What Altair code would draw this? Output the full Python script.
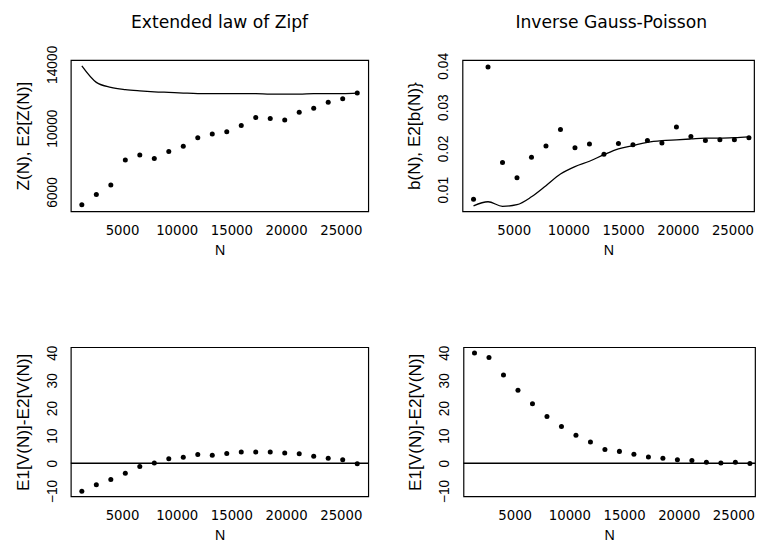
import altair as alt
import pandas as pd

# ---- data ----
N = [1325, 2650, 3975, 5300, 6625, 7950, 9275, 10600, 11925, 13250,
     14575, 15900, 17225, 18550, 19875, 21200, 22525, 23850, 25175, 26505]

zipf_obs = [5200, 5840, 6430, 8010, 8320, 8090, 8540, 8870, 9400, 9630,
            9770, 10160, 10660, 10600, 10510, 10990, 11250, 11620, 11850, 12200]
zipf_exp = [13900, 12870, 12560, 12420, 12340, 12280, 12240, 12200, 12170, 12170,
            12170, 12170, 12170, 12130, 12130, 12130, 12170, 12170, 12170, 12200]

igp_obs = [0.0077, 0.0397, 0.0166, 0.0129, 0.0179, 0.0206, 0.0246, 0.0202, 0.0211, 0.0186,
           0.0212, 0.0209, 0.0219, 0.0213, 0.0252, 0.0229, 0.0219, 0.0221, 0.0221, 0.0226]
igp_exp = [0.0061, 0.0071, 0.0060, 0.0064, 0.0083, 0.0110, 0.0138, 0.0156, 0.0169, 0.0185,
           0.0199, 0.0207, 0.0215, 0.0219, 0.0221, 0.0223, 0.0225, 0.0225, 0.0226, 0.0228]

zipf_diff = [-10.1, -7.8, -5.9, -3.6, -1.2, 0.1, 1.6, 2.2, 3.2, 2.9,
             3.5, 4.1, 4.1, 4.1, 3.7, 3.4, 2.5, 1.8, 1.3, -0.2]
igp_diff = [39.9, 38.3, 31.9, 26.4, 21.5, 16.9, 13.3, 10.1, 7.7, 5.0,
            4.3, 3.3, 2.3, 1.8, 1.3, 1.0, 0.4, 0.1, 0.4, -0.1]

zero_line = [0]

x_ticks = [5000, 10000, 15000, 20000, 25000]
y_ticks_zipf = [6000, 10000, 14000]
y_ticks_igp = [0.01, 0.02, 0.03, 0.04]
y_ticks_diff = [-10, 0, 10, 20, 30, 40]

titles = ["Extended law of Zipf", "Inverse Gauss-Poisson"]
y_titles = ["Z(N), E2[Z(N)]", "b(N), E2[b(N)}", "E1[V(N)]-E2[V(N)]"]

df = pd.DataFrame({
    "N": N, "zipf_obs": zipf_obs, "zipf_exp": zipf_exp,
    "igp_obs": igp_obs, "igp_exp": igp_exp,
    "zipf_diff": zipf_diff, "igp_diff": igp_diff,
})
zdf = pd.DataFrame({"zero": zero_line})

# ---- styling ----
W_L = 303
W_R = 297
H_TOP = 154
H_BOT = 152
X_DOMAIN_L = [318, 27512]
X_DOMAIN_R = [318, 26973]


def x_axis():
    return alt.Axis(values=x_ticks, format="d", title="N", tickSize=0,
                    labelPadding=13, labelFont="DejaVu Sans", labelFontSize=13.5,
                    labelBaseline="top", labelOverlap=False, labelFlush=False,
                    titleFont="Liberation Sans", titleFontSize=14.5,
                    titleFontWeight="normal", titlePadding=3,
                    minExtent=30, maxExtent=30)


def y_axis(title, values, fmt):
    return alt.Axis(values=values, format=fmt, title=title, tickSize=0,
                    labelPadding=12, labelAngle=270, labelAlign="center",
                    labelBaseline="bottom", labelFont="Liberation Sans",
                    labelFontSize=14, labelOverlap=False, labelFlush=False,
                    titleFont="Liberation Sans", titleFontSize=17.5,
                    titleFontWeight="normal", titlePadding=11.5,
                    minExtent=28, maxExtent=28)


def panel(obs, exp, ydomain, ytitle, yvals, fmt, height, width, xdomain,
          title=None, toff=0, tdx=0):
    yscale = alt.Scale(domain=ydomain, nice=False, zero=False)
    xscale = alt.Scale(domain=xdomain, nice=False, zero=False)
    ax = y_axis(ytitle, yvals, fmt)
    xe = alt.X("N:Q", scale=xscale, axis=x_axis())
    pts = alt.Chart(df).mark_circle(size=26, color="black", opacity=1).encode(
        x=xe, y=alt.Y(f"{obs}:Q", scale=yscale, axis=ax))
    if exp is not None:
        other = alt.Chart(df).mark_line(color="black", strokeWidth=1.3,
                                        interpolate="monotone").encode(
            x=xe, y=alt.Y(f"{exp}:Q", scale=yscale, axis=ax))
    else:
        other = alt.Chart(zdf).mark_rule(color="black", strokeWidth=1.3).encode(
            y=alt.Y("zero:Q", scale=yscale, axis=ax))
    ch = alt.layer(other, pts).properties(width=width, height=height)
    if title:
        ch = ch.properties(title=alt.TitleParams(
            text=title, font="DejaVu Sans", fontSize=17.5, fontWeight="normal",
            color="black", baseline="alphabetic", offset=toff, dx=tdx,
            anchor="middle"))
    return ch


p1 = panel("zipf_obs", "zipf_exp", [4790, 14267], y_titles[0], y_ticks_zipf, "d",
           H_TOP, W_L, X_DOMAIN_L, titles[0], toff=0)
p2 = panel("igp_obs", "igp_exp", [0.0048, 0.0414], y_titles[1], y_ticks_igp, ".2f",
           H_TOP, W_R, X_DOMAIN_R, titles[1], toff=7.5, tdx=3)
p3 = panel("zipf_diff", None, [-12, 42], y_titles[2], y_ticks_diff, "d",
           H_BOT, W_L, X_DOMAIN_L)
p4 = panel("igp_diff", None, [-12, 42], y_titles[2], y_ticks_diff, "d",
           H_BOT, W_R, X_DOMAIN_R)

chart = alt.vconcat(
    alt.hconcat(p1, p2, spacing=36),
    alt.hconcat(p3, p4, spacing=36),
    spacing=87.5,
).properties(
    padding={"left": 5, "top": 0, "right": 0, "bottom": 0},
    background="white",
).configure_view(
    stroke="black", strokeWidth=1.2
).configure_axis(grid=False, domain=False, labelColor="black", titleColor="black")

chart.save("out.html", embed_options={"renderer": "svg", "actions": False})
